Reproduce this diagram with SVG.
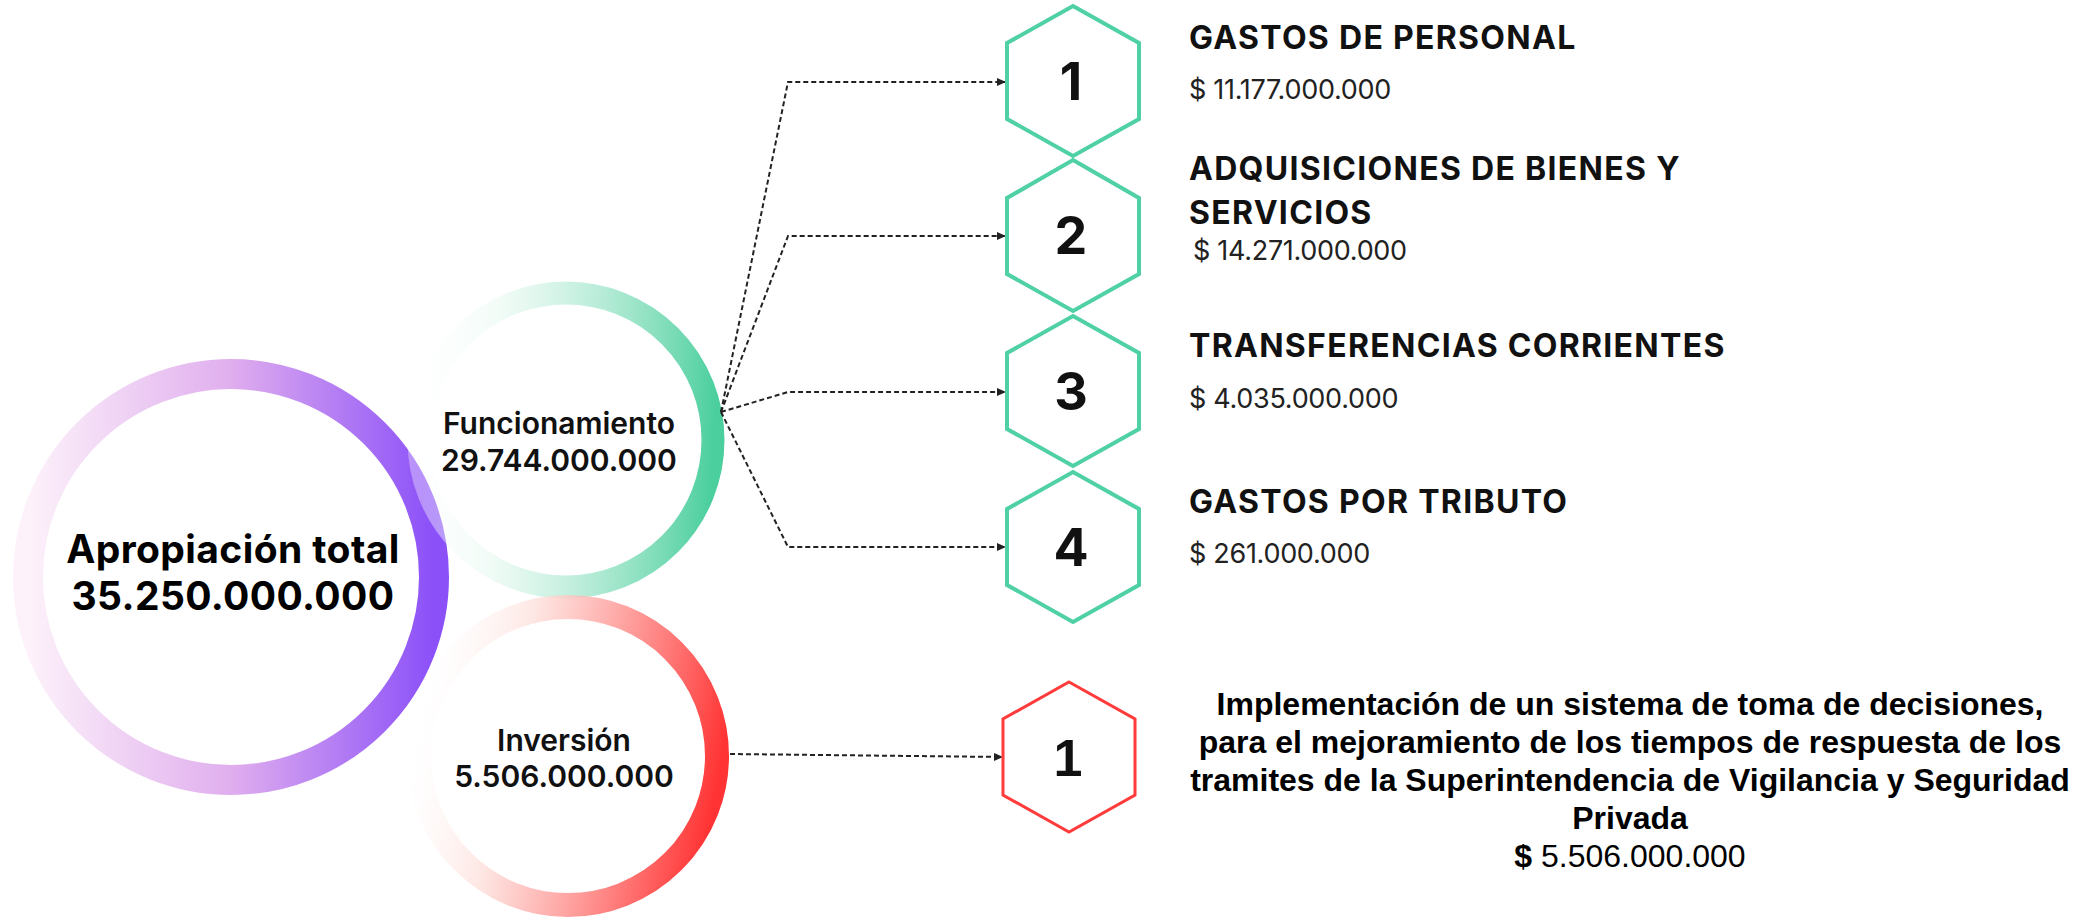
<svg xmlns="http://www.w3.org/2000/svg" width="2089" height="923" viewBox="0 0 2089 923">
<defs>
<linearGradient id="gPurple" x1="0" y1="0.5" x2="1" y2="0.5">
<stop offset="0" stop-color="#fdf2fa"/>
<stop offset="0.5" stop-color="#e0aeee"/>
<stop offset="1" stop-color="#8b50f8"/>
</linearGradient>
<linearGradient id="gGreen" x1="0" y1="0.45" x2="1" y2="0.5">
<stop offset="0" stop-color="#ffffff" stop-opacity="0.35"/>
<stop offset="0.25" stop-color="#e8f9f1" stop-opacity="0.55"/>
<stop offset="1" stop-color="#4ccf9e"/>
</linearGradient>
<linearGradient id="gRed" x1="0" y1="0.4" x2="1" y2="0.6">
<stop offset="0" stop-color="#ffffff" stop-opacity="0.3"/>
<stop offset="0.3" stop-color="#fde0dc" stop-opacity="0.8"/>
<stop offset="1" stop-color="#ff3333"/>
</linearGradient>
<marker id="arr" markerUnits="userSpaceOnUse" markerWidth="10" markerHeight="8" refX="9" refY="4" orient="auto">
<path d="M0,0 L9,4 L0,8 Z" fill="#222"/>
</marker>
<style>
.ring{fill:none}
.hexg{fill:#fff;stroke:#4fd1a5;stroke-width:4}
.hexr{fill:#fff;stroke:#ff3b3b;stroke-width:3}
.num{font-family:Inter,"Liberation Sans",sans-serif;font-weight:700;font-size:52px;fill:#111;text-anchor:middle}
.ttl{font-family:Inter,"Liberation Sans",sans-serif;font-weight:700;font-size:32px;letter-spacing:1.3px;fill:#111}
.amt{font-family:Inter,"Liberation Sans",sans-serif;font-size:27px;letter-spacing:-0.3px;fill:#222}
.big{font-family:Inter,"Liberation Sans",sans-serif;font-weight:700;font-size:39px;letter-spacing:0.4px;fill:#000;text-anchor:middle}
.mid{font-family:Inter,"Liberation Sans",sans-serif;font-weight:600;font-size:30px;fill:#111;text-anchor:middle}
.inv{font-family:"Liberation Sans",Arial,sans-serif;font-weight:700;font-size:32px;fill:#000;text-anchor:middle}
.conn{fill:none;stroke:#222;stroke-width:2;stroke-dasharray:5 3;marker-end:url(#arr)}
</style>
</defs>
<rect width="2089" height="923" fill="#fff"/>

<g id="total">
<circle class="ring" cx="231" cy="577" r="203" stroke="url(#gPurple)" stroke-width="30"/>
<text class="big" x="233" y="563">Apropiación total</text>
<text class="big" x="233" y="610">35.250.000.000</text>
</g>

<g id="funcionamiento">
<circle class="ring" cx="566" cy="440" r="147" stroke="url(#gGreen)" stroke-width="23"/>
<text class="mid" x="559" y="434">Funcionamiento</text>
<text class="mid" x="559" y="471">29.744.000.000</text>
</g>

<g id="inversion">
<circle class="ring" cx="568" cy="756" r="149" stroke="url(#gRed)" stroke-width="24"/>
<text class="mid" x="564" y="751">Inversión</text>
<text class="mid" x="564" y="787">5.506.000.000</text>
</g>

<g id="connectors">
<path class="conn" d="M721,412 L788,82 L1006,82"/>
<path class="conn" d="M721,412 L788,236 L1006,236"/>
<path class="conn" d="M721,412 L788,392 L1006,392"/>
<path class="conn" d="M721,412 L788,547 L1006,547"/>
<path class="conn" d="M730,754 L1003,757"/>
</g>

<g id="item1">
<polygon class="hexg" points="1073,6 1139,43 1139,119 1073,156 1007,119 1007,43"/>
<text class="num" x="1071" y="100">1</text>
<text class="ttl" x="1189" y="49">GASTOS DE PERSONAL</text>
<text class="amt" x="1189" y="99">$ 11.177.000.000</text>
</g>

<g id="item2">
<polygon class="hexg" points="1073,160 1139,198 1139,274 1073,311 1007,274 1007,198"/>
<text class="num" x="1071" y="254">2</text>
<text class="ttl" x="1189" y="180">ADQUISICIONES DE BIENES Y</text>
<text class="ttl" x="1189" y="224">SERVICIOS</text>
<text class="amt" x="1193" y="260">$ 14.271.000.000</text>
</g>

<g id="item3">
<polygon class="hexg" points="1073,316 1139,353 1139,429 1073,466 1007,429 1007,353"/>
<text class="num" x="1071" y="410">3</text>
<text class="ttl" x="1189" y="357">TRANSFERENCIAS CORRIENTES</text>
<text class="amt" x="1189" y="408">$ 4.035.000.000</text>
</g>

<g id="item4">
<polygon class="hexg" points="1073,472 1139,509 1139,585 1073,622 1007,585 1007,509"/>
<text class="num" x="1071" y="566">4</text>
<text class="ttl" x="1189" y="513">GASTOS POR TRIBUTO</text>
<text class="amt" x="1189" y="563">$ 261.000.000</text>
</g>

<g id="item5">
<polygon class="hexr" points="1069,682 1135,719 1135,795 1069,832 1003,795 1003,719"/>
<text class="num" x="1068" y="776" style="font-family:'Liberation Sans',Arial,sans-serif">1</text>
<text class="inv" x="1630" y="715">Implementación de un sistema de toma de decisiones,</text>
<text class="inv" x="1630" y="753">para el mejoramiento de los tiempos de respuesta de los</text>
<text class="inv" x="1630" y="791">tramites de la Superintendencia de Vigilancia y Seguridad</text>
<text class="inv" x="1630" y="829">Privada</text>
<text class="inv" x="1630" y="867"><tspan>$</tspan><tspan font-weight="400"> 5.506.000.000</tspan></text>
</g>
</svg>
